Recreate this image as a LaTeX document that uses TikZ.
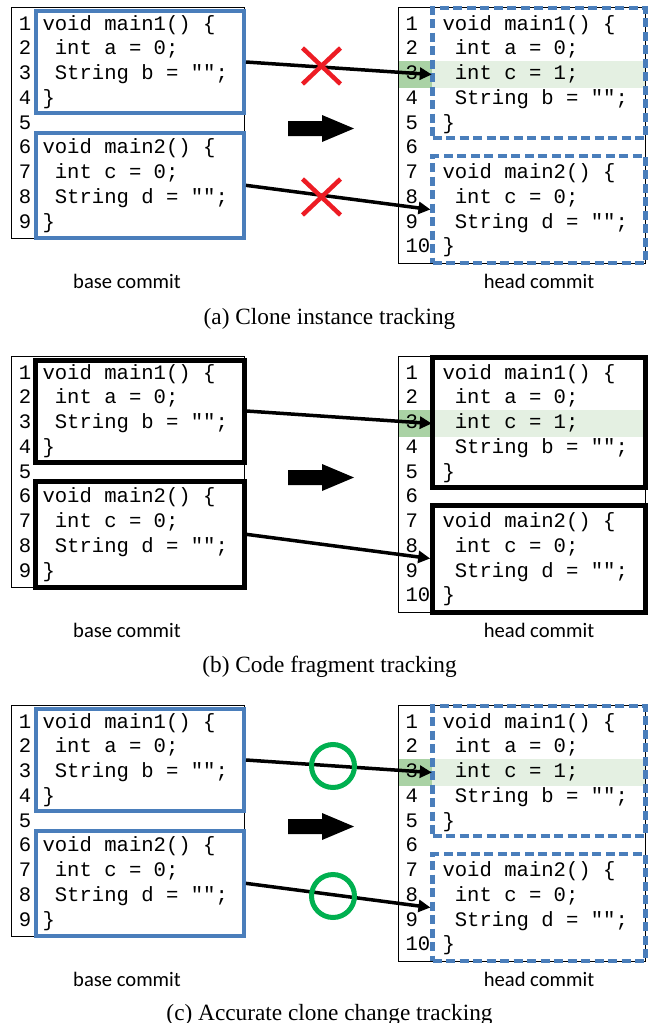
\documentclass[tikz,border=0pt]{standalone}
\usepackage{fontspec}
\usetikzlibrary{arrows.meta}
\newfontfamily\codefont{Liberation Mono}
\newfontfamily\labelfont{Carlito}
\newfontfamily\capfont{Liberation Serif}
\definecolor{cblue}{RGB}{74,126,187}
\definecolor{xred}{RGB}{237,28,36}
\definecolor{ogreen}{RGB}{0,176,80}
\definecolor{hlLight}{RGB}{228,240,226}
\definecolor{hlDark}{RGB}{170,210,165}
\tikzset{
  code/.style={anchor=base west, inner sep=0pt, outer sep=0pt, font=\codefont\fontsize{20.6}{24}\selectfont},
  frame/.style={draw=black, line width=1pt, inner sep=0pt},
  boxnode/.style={inner sep=0pt},
  cloneL/.style={boxnode, draw=cblue, line width=4pt},
  cloneR/.style={boxnode, draw=cblue, line width=4.5pt, dash pattern=on 9pt off 4.5pt},
  fragL/.style={boxnode, draw=black, line width=5pt},
  fragR/.style={boxnode, draw=black, line width=5pt},
  link/.style={line width=3.5pt, -{Triangle[length=12pt,width=12pt]}},
  commitlbl/.style={anchor=base, inner sep=0pt, font=\labelfont\fontsize{20.6}{24}\selectfont},
  caption/.style={anchor=base, inner sep=0pt, font=\capfont\fontsize{23.3}{28}\selectfont},
  redx/.style={draw=xred, line width=4.5pt},
  okmark/.style={draw=ogreen, line width=5pt},
  bigarrow/.style={fill=black}
}
\newcommand\cl[4]{\node[code] (#1) at (#2,{30+24.75*(#3-1)}) {#4};}
% #1 suffix, #2 y offset, #3 left box style, #4 right box style
\newcommand\drawpanel[4]{%
\begin{scope}[shift={(0,#2)}]
  % highlight of changed line
  \node[boxnode, fill=hlLight, minimum width=213pt, minimum height=27pt] (hl#1) at (538.5,74.5) {};
  \node[boxnode, fill=hlDark, minimum width=34pt, minimum height=27pt] (hd#1) at (415,74.5) {};
  % frames
  \node[frame, minimum width=232.3pt, minimum height=231pt] (FL#1) at (127.85,122.5) {};
  \node[frame, minimum width=247pt, minimum height=256pt] (FR#1) at (521.5,135) {};
  % left code
  \cl{ln1#1}{19}{1}{1}\cl{ln2#1}{19}{2}{2}\cl{ln3#1}{19}{3}{3}
  \cl{ln4#1}{19}{4}{4}\cl{ln5#1}{19}{5}{5}\cl{ln6#1}{19}{6}{6}
  \cl{ln7#1}{19}{7}{7}\cl{ln8#1}{19}{8}{8}\cl{ln9#1}{19}{9}{9}
  \cl{lc1#1}{42.5}{1}{void main1() \{}
  \cl{lc2#1}{42.5}{2}{\hphantom{0}int a = 0;}
  \cl{lc3#1}{42.5}{3}{\hphantom{0}String b = "";}
  \cl{lc4#1}{42.5}{4}{\}}
  \cl{lc6#1}{42.5}{6}{void main2() \{}
  \cl{lc7#1}{42.5}{7}{\hphantom{0}int c = 0;}
  \cl{lc8#1}{42.5}{8}{\hphantom{0}String d = "";}
  \cl{lc9#1}{42.5}{9}{\}}
  % right code
  \cl{rn1#1}{405.5}{1}{1}\cl{rn2#1}{405.5}{2}{2}\cl{rn3#1}{405.5}{3}{3}
  \cl{rn4#1}{405.5}{4}{4}\cl{rn5#1}{405.5}{5}{5}\cl{rn6#1}{405.5}{6}{6}
  \cl{rn7#1}{405.5}{7}{7}\cl{rn8#1}{405.5}{8}{8}\cl{rn9#1}{405.5}{9}{9}
  \cl{rn10#1}{405.5}{10}{10}
  \cl{rc1#1}{442.5}{1}{void main1() \{}
  \cl{rc2#1}{442.5}{2}{\hphantom{0}int a = 0;}
  \cl{rc3#1}{442.5}{3}{\hphantom{0}int c = 1;}
  \cl{rc4#1}{442.5}{4}{\hphantom{0}String b = "";}
  \cl{rc5#1}{442.5}{5}{\}}
  \cl{rc7#1}{442.5}{7}{void main2() \{}
  \cl{rc8#1}{442.5}{8}{\hphantom{0}int c = 0;}
  \cl{rc9#1}{442.5}{9}{\hphantom{0}String d = "";}
  \cl{rc10#1}{442.5}{10}{\}}
  % method boxes
  \node[#3, minimum width=208.3pt, minimum height=102pt] (A1#1) at (139.85,62) {};
  \node[#3, minimum width=208.3pt, minimum height=105.3pt] (A2#1) at (139.85,185.35) {};
  \node[#4, minimum width=213pt, minimum height=130pt] (B1#1) at (539.2,73) {};
  \node[#4, minimum width=213pt, minimum height=107pt] (B2#1) at (539.2,209.5) {};
  % big arrow
  \fill[bigarrow] (288,121) -- (322,121) -- (322,115) -- (354,128.5) -- (322,142) -- (322,136) -- (288,136) -- cycle;
  % links
  \draw[link] (A1#1.east) -- (hl#1.west);
  \draw[link] (A2#1.east) -- (B2#1.west);
  % labels
  \node[commitlbl] (base#1) at (127,288) {base commit};
  \node[commitlbl] (head#1) at (539,288) {head commit};
\end{scope}}
\begin{document}
\begin{tikzpicture}[x=1pt,y=-1pt]
\useasboundingbox (0,0) rectangle (649,1023);
\drawpanel{a}{0}{cloneL}{cloneR}
\drawpanel{b}{349}{fragL}{fragR}
\drawpanel{c}{698}{cloneL}{cloneR}
% red crosses (a)
\draw[redx] (302.5,48) -- (340.5,84) (302.5,84) -- (340.5,48);
\draw[redx] (302.5,179) -- (340.5,215) (302.5,215) -- (340.5,179);
% green circles (c)
\draw[okmark] (333,766) circle[radius=21.5];
\draw[okmark] (333,896) circle[radius=21.5];
% captions
\node[caption] (capa) at (329.5,324) {(a) Clone instance tracking};
\node[caption] (capb) at (329.5,672) {(b) Code fragment tracking};
\node[caption] (capc) at (329.5,1020) {(c) Accurate clone change tracking};
\end{tikzpicture}
\end{document}
